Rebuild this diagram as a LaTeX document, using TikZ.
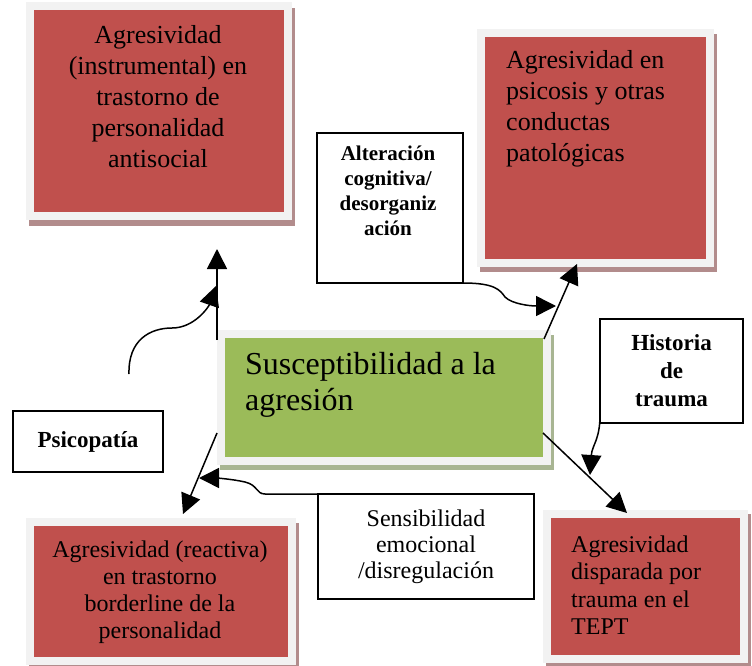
\documentclass[tikz,border=0pt]{standalone}
\usepackage{fontspec}
\setmainfont{Liberation Serif}
\usetikzlibrary{arrows.meta,backgrounds,calc}
\definecolor{boxred}{HTML}{C0504D}
\definecolor{boxgreen}{HTML}{9BBB59}
\definecolor{framegrey}{HTML}{F2F2F2}
\definecolor{shred}{RGB}{178,140,140}
\definecolor{shgreen}{RGB}{168,181,146}
\begin{document}
\begin{tikzpicture}[x=1pt,y=-1pt,
  redbox/.style={fill=boxred, draw=framegrey, line width=8pt, outer sep=4pt, inner sep=0pt},
  greenbox/.style={fill=boxgreen, draw=framegrey, line width=8pt, outer sep=4pt, inner sep=0pt},
  plainbox/.style={draw=black, line width=1.4pt, fill=white, inner sep=0pt, outer sep=0pt, align=center},
  txt/.style={inner sep=0pt, align=center, text=black},
  arr/.style={line width=1.5pt, -{Triangle[length=20pt,width=20pt]}},
  f26/.style={font=\fontsize{26pt}{31pt}\selectfont},
  f24/.style={font=\fontsize{24pt}{27pt}\selectfont},
  fb/.style={font=\fontsize{23pt}{28pt}\selectfont\bfseries},
]
\useasboundingbox (0,0) rectangle (752,666);

% boxes
\node[redbox, minimum width=258pt, minimum height=210pt] (b1) at (159,111) {};
\node[redbox, minimum width=229pt, minimum height=230pt] (b2) at (595.5,148) {};
\node[greenbox, minimum width=326pt, minimum height=127pt] (g) at (384,397.5) {};
\node[redbox, minimum width=262pt, minimum height=139pt] (b3) at (161,591.5) {};
\node[redbox, minimum width=197pt, minimum height=145pt] (b4) at (645.5,586.5) {};

\node[plainbox, minimum width=146pt, minimum height=150pt] (a) at (390,208) {};
\node[plainbox, fb, minimum width=150pt, minimum height=61pt] (p) at (88,441.5) {Psicopatía};
\node[plainbox, fb, minimum width=143pt, minimum height=104pt] (h) at (671.5,371) {Historia\\de\\trauma};
\node[plainbox, font=\fontsize{24pt}{26pt}\selectfont, minimum width=216pt, minimum height=105pt] (s) at (426,546.5) {Sensibilidad\\emocional\\/disregulación};

% shadows
\begin{scope}[on background layer]
  \fill[shred] ([shift={(3,6)}]b1.north west) rectangle ([shift={(3,6)}]b1.south east);
  \fill[shred] ([shift={(3,5)}]b2.north west) rectangle ([shift={(3,5)}]b2.south east);
  \fill[shgreen] ([shift={(3,5)}]g.north west) rectangle ([shift={(3,5)}]g.south east);
  \fill[shred] ([shift={(3,5)}]b3.north west) rectangle ([shift={(3,5)}]b3.south east);
  \fill[shred] ([shift={(3,4)}]b4.north west) rectangle ([shift={(3,4)}]b4.south east);
\end{scope}

% texts
\node[txt, f26] (t1) at (158,97) {Agresividad\\(instrumental) en\\trastorno de\\personalidad\\antisocial};
\node[txt, f26, align=left, anchor=west] (t2) at (506,109) {Agresividad en\\psicosis y otras\\conductas\\patológicas};
\node[txt, align=left, anchor=west, font=\fontsize{32pt}{36pt}\selectfont] (tg) at (245,385) {Susceptibilidad a la\\agresión};
\node[txt, f24] (t3) at (160,592) {Agresividad (reactiva)\\en trastorno\\borderline de la\\personalidad};
\node[txt, align=left, anchor=west, font=\fontsize{24pt}{27.5pt}\selectfont] (t4) at (571,585) {Agresividad\\disparada por\\trauma en el\\TEPT};
\node[txt, font=\fontsize{21pt}{25pt}\selectfont\bfseries] (ta) at (388,190.5) {Alteración\\cognitiva/\\desorganiz\\ación};

% connector end points
\coordinate (c1) at (217,249);
\coordinate (ps) at (129,374);
\coordinate (c2) at (216,286);
\coordinate (c3) at (556,306);
\coordinate (c4) at (577,264);
\coordinate (c5) at (627,513);
\coordinate (c6) at (590,475);
\coordinate (c7) at (183,514);
\coordinate (c8) at (199,478);

% connectors
\draw[arr] ([yshift=-10pt]g.north west) -- (c1);
\draw[arr] (ps) .. controls (128,340) and (150,328) .. (172,328) .. controls (195,328) and (209,306) .. (c2);
\draw[arr] (a.south east) .. controls (495,283) and (500,290) .. (505,297) .. controls (512,304) and (530,306) .. (c3);
\draw[arr] ([shift={(-7,9)}]g.north east) -- (c4);
\draw[arr] ([shift={(-8,35.5)}]g.east) -- (c5);
\draw[arr] ([yshift=-44pt]h.west) .. controls (600,440) and (592,445) .. (c6);
\draw[arr] ([yshift=-35.5pt]g.west) -- (c7);
\draw[arr] (s.north west) -- (265,494) .. controls (256,494) and (258,485) .. (245,482) .. controls (232,479) and (215,478) .. (c8);
\end{tikzpicture}
\end{document}
